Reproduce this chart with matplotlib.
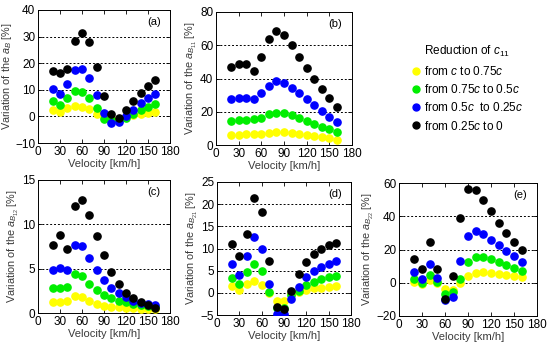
import numpy as np
import matplotlib
matplotlib.use("Agg")
import matplotlib.pyplot as plt
from matplotlib.lines import Line2D

plt.rcParams['font.family'] = ['Liberation Sans', 'DejaVu Sans']
plt.rcParams['mathtext.fontset'] = 'custom'
plt.rcParams['mathtext.it'] = 'Liberation Sans:italic'
plt.rcParams['mathtext.rm'] = 'Liberation Sans'

velocity = [20, 30, 40, 50, 60, 70, 80, 90, 100, 110, 120, 130, 140, 150, 160]

series_names = ["from $c$ to 0.75$c$", "from 0.75$c$ to 0.5$c$",
                "from 0.5$c$  to 0.25$c$", "from 0.25$c$ to 0"]
series_colors = ["#ffff00", "#00ee00", "#0000ff", "#000000"]

# panel (a) a_B
aB_yellow = [2.3, 1.7, 3.0, 3.8, 3.6, 2.6, 1.0, -0.3, -0.7, -0.8, -0.2, 0.5, 1.0, 1.3, 1.8]
aB_green = [5.7, 4.2, 6.9, 9.5, 9.3, 6.9, 3.0, -0.8, -1.5, -1.5, -0.5, 1.0, 2.5, 3.5, 4.5]
aB_blue = [10.3, 8.5, 12.0, 17.3, 17.8, 14.5, 8.0, 1.2, -2.3, -2.2, 0.2, 2.5, 5.0, 6.8, 8.3]
aB_black = [17.0, 16.5, 18.0, 28.5, 31.5, 28.0, 18.5, 7.5, 0.8, -0.5, 2.3, 5.7, 8.8, 11.5, 13.8]

# panel (b) a_B11
aB11_yellow = [6.0, 6.3, 6.4, 6.5, 6.8, 7.3, 7.7, 7.7, 7.3, 6.7, 6.0, 5.3, 4.6, 4.0, 3.3]
aB11_green = [14.5, 15.0, 15.0, 15.5, 16.5, 18.5, 19.5, 19.5, 18.0, 16.5, 14.5, 12.5, 11.0, 9.5, 8.0]
aB11_blue = [27.5, 28.5, 28.5, 27.5, 31.0, 35.5, 38.5, 37.5, 34.5, 31.0, 27.5, 24.0, 20.5, 17.0, 14.0]
aB11_black = [47.0, 49.0, 49.0, 44.5, 53.0, 63.5, 68.5, 66.0, 60.0, 53.0, 46.5, 39.5, 33.5, 28.0, 23.0]

# panel (c) a_B12
aB12_yellow = [1.2, 1.2, 1.3, 1.9, 1.8, 1.4, 1.0, 0.8, 0.7, 0.65, 0.6, 0.55, 0.5, 0.45, 0.4]
aB12_green = [2.8, 2.8, 2.9, 4.4, 4.2, 3.3, 2.6, 2.0, 1.7, 1.4, 1.2, 1.0, 0.9, 0.8, 0.7]
aB12_blue = [4.8, 5.1, 4.8, 7.7, 7.6, 6.2, 4.9, 3.7, 2.8, 2.3, 1.8, 1.4, 1.1, 1.0, 0.9]
aB12_black = [7.7, 8.8, 7.2, 12.1, 12.7, 11.0, 8.7, 6.5, 4.6, 3.3, 2.3, 1.7, 1.2, 0.9, 0.6]

# panel (d) a_B21
aB21_yellow = [1.5, 0.7, 2.0, 2.6, 1.8, -0.1, -1.9, -1.8, -0.3, 0.2, 0.6, 1.0, 1.2, 1.4, 1.6]
aB21_green = [3.4, 1.9, 4.6, 6.6, 4.9, 0.3, -3.5, -3.4, -0.6, 0.5, 1.7, 2.5, 3.1, 3.5, 3.8]
aB21_blue = [6.6, 4.0, 8.2, 12.6, 10.0, 2.1, -4.8, -4.8, -1.4, 1.4, 3.5, 5.0, 5.9, 6.6, 7.1]
aB21_black = [11.0, 8.4, 13.2, 21.4, 18.3, 7.2, -3.3, -3.6, 0.4, 4.2, 7.0, 8.7, 9.9, 10.7, 11.2]

# panel (e) a_B22
aB22_yellow = [0.5, -0.5, 1.5, 0.0, -3.5, -4.5, 0.0, 4.0, 6.0, 6.3, 6.0, 5.5, 4.9, 4.2, 3.3]
aB22_green = [2.2, 0.0, 4.8, 0.5, -7.0, -5.5, 2.2, 12.2, 15.2, 15.2, 14.3, 12.7, 10.8, 8.8, 7.3]
aB22_blue = [6.3, 2.5, 11.0, 2.8, -10.5, -8.5, 12.8, 28.0, 31.0, 29.5, 26.0, 22.5, 19.3, 15.8, 12.7]
aB22_black = [14.2, 8.0, 24.5, 8.5, -9.5, 4.0, 39.0, 56.5, 56.0, 50.0, 43.0, 36.0, 30.0, 24.5, 19.5]

W, H = 550, 347
fig = plt.figure(figsize=(W / 100, H / 100), dpi=100)
fig.patch.set_facecolor('white')

label_col = '#3a3a3a'


def make_panel(box, data, ylim, yticks, grid, sub, tag):
    l, r, t, b = box
    ax = fig.add_axes([l / W, (H - b) / H, (r - l) / W, (b - t) / H])
    for g in grid:
        ax.axhline(g, color='black', ls=(0, (2, 2)), lw=0.7, zorder=1)
    for vals, col in zip(data, series_colors):
        ax.plot(velocity, vals, 'o', color=col, markersize=5.2, mec=col, zorder=3)
    ax.set_xlim(0, 180)
    ax.set_xticks([0, 30, 60, 90, 120, 150, 180])
    ax.set_ylim(*ylim)
    ax.set_yticks(yticks)
    ax.tick_params(direction='in', top=True, right=True, length=3, width=0.6,
                   labelsize=8.5, pad=2)
    for s in ax.spines.values():
        s.set_linewidth(0.7)
    ax.set_xlabel('Velocity [km/h]', fontsize=8, color=label_col, labelpad=1)
    ax.set_ylabel('Variation of the $a_{' + sub + '}$ [%]', fontsize=7.8,
                  color=label_col, labelpad=0.5)
    ax.text(0.93, 0.91, tag, transform=ax.transAxes, ha='right', va='center',
            fontsize=8)
    return ax


make_panel((38, 170, 10, 143), [aB_yellow, aB_green, aB_blue, aB_black],
           (-10, 40), [-10, 0, 10, 20, 30, 40], [0, 10, 20, 30], 'B', '(a)')
make_panel((216, 352, 12, 145), [aB11_yellow, aB11_green, aB11_blue, aB11_black],
           (0, 80), [0, 20, 40, 60, 80], [20, 40, 60], 'B_{11}', '(b)')
make_panel((38, 170, 180, 313), [aB12_yellow, aB12_green, aB12_blue, aB12_black],
           (0, 15), [0, 5, 10, 15], [5, 10], 'B_{12}', '(c)')
make_panel((217, 351, 182, 315), [aB21_yellow, aB21_green, aB21_blue, aB21_black],
           (-5, 25), [-5, 0, 5, 10, 15, 20, 25], [0, 5, 10, 15, 20], 'B_{21}', '(d)')
make_panel((399, 537, 183, 316), [aB22_yellow, aB22_green, aB22_blue, aB22_black],
           (-20, 60), [-20, 0, 20, 40, 60], [0, 20, 40], 'B_{22}', '(e)')

handles = [Line2D([], [], ls='none', marker='o', color=c, markersize=5)
           for c in series_colors]
leg = fig.legend(handles, series_names, loc='upper left',
                 bbox_to_anchor=(404 / W, 1 - 36 / H), frameon=False,
                 fontsize=8.5, title='Reduction of $c_{11}$', title_fontsize=8.5,
                 handlelength=0.6, handletextpad=0.4, labelspacing=0.45,
                 borderpad=0.2)
leg._legend_box.align = 'left'
leg.get_title().set_position((12, 0))

fig.savefig('out.png', dpi=100)
